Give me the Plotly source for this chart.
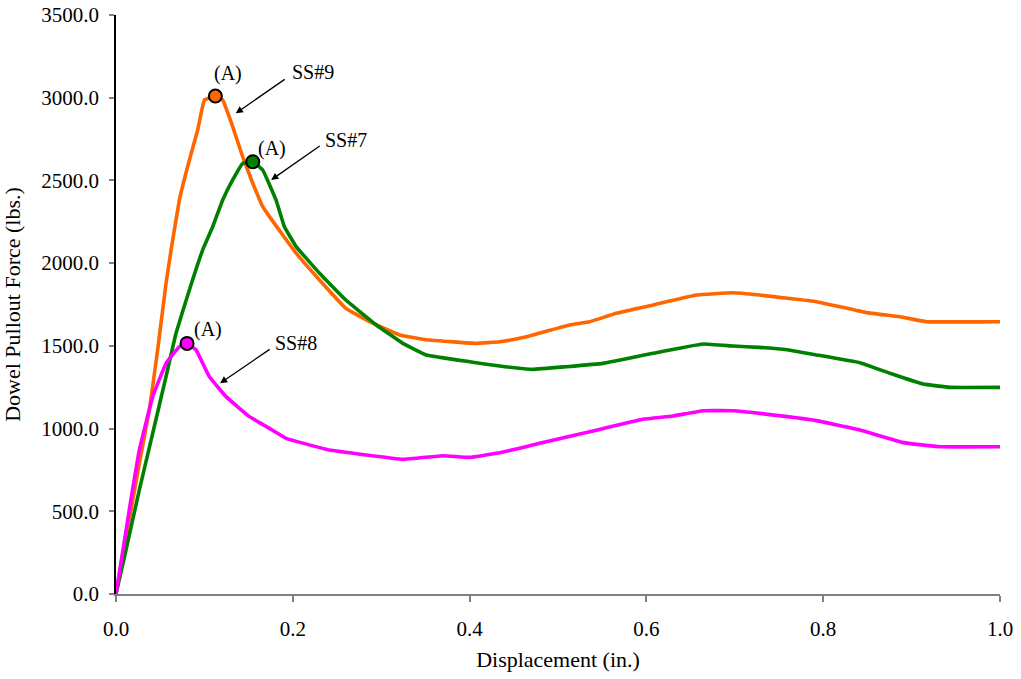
import plotly.graph_objects as go

# SS#9 (orange)
ss9_x = [0, 0.0264, 0.0377, 0.0471, 0.0566, 0.0623, 0.0717, 0.081, 0.0924, 0.100, 0.1124, 0.1207, 0.132,
         0.1433, 0.1547, 0.166, 0.1736, 0.2038, 0.2302, 0.260, 0.2868, 0.3207, 0.3547, 0.4075, 0.434, 0.4566,
         0.4717, 0.5132, 0.5358, 0.566, 0.6075, 0.6566, 0.698, 0.728, 0.7925, 0.849, 0.8868, 0.917, 1.0]
ss9_y = [0, 790, 1112, 1475, 1878, 2079, 2382, 2583, 2805, 2986, 3010, 2986, 2825,
         2643, 2483, 2341, 2281, 2060, 1898, 1727, 1646, 1566, 1535, 1515, 1525, 1546,
         1566, 1626, 1646, 1697, 1747, 1807, 1821, 1807, 1767, 1701, 1676, 1646, 1646]

# SS#7 (green)
ss7_x = [0, 0.0113, 0.0264, 0.0415, 0.0566, 0.0679, 0.083, 0.098, 0.1094, 0.1207, 0.132, 0.1433, 0.1547,
         0.166, 0.181, 0.1905, 0.2038, 0.2302, 0.260, 0.2944, 0.3245, 0.351, 0.40, 0.434, 0.4717, 0.5094,
         0.5509, 0.6075, 0.664, 0.698, 0.728, 0.7547, 0.7925, 0.8415, 0.8755, 0.913, 0.9434, 1.0]
ss7_y = [0, 266, 629, 971, 1314, 1576, 1838, 2079, 2220, 2382, 2503, 2603, 2613,
         2563, 2382, 2220, 2100, 1939, 1777, 1626, 1515, 1445, 1404, 1378, 1358, 1374,
         1394, 1455, 1511, 1499, 1491, 1479, 1445, 1398, 1334, 1269, 1249, 1249]

# SS#8 (magenta)
ss8_x = [0, 0.015, 0.0264, 0.0415, 0.0566, 0.0717, 0.0804, 0.0906, 0.1056, 0.1245, 0.151, 0.1736, 0.1925,
         0.2415, 0.283, 0.3245, 0.3698, 0.40, 0.434, 0.4566, 0.4792, 0.5358, 0.5962, 0.630, 0.664, 0.698,
         0.728, 0.7925, 0.8415, 0.8906, 0.932, 1.0]
ss8_y = [0, 508, 870, 1193, 1394, 1495, 1515, 1475, 1314, 1193, 1072, 1001, 941,
         870, 840, 814, 836, 826, 854, 881, 911, 981, 1056, 1076, 1108, 1108,
         1092, 1048, 991, 915, 890, 890]

# peak points (A)
peak_x = [0.1124, 0.1547, 0.0804]
peak_y = [3010, 2613, 1515]
peak_colors = ["#FF6600", "#008000", "#FF00FF"]

labels = ["SS#9", "SS#7", "SS#8"]
label_x = [0.2233, 0.2601, 0.2036]
label_y = [3157, 2744, 1520]
a_x = [0.1264, 0.1767, 0.1044]
a_y = [3149, 2694, 1596]
arrow_head_x = [0.1355, 0.1755, 0.1177]
arrow_head_y = [2906, 2503, 1274]
arrow_tail_x = [0.1925, 0.2321, 0.1755]
arrow_tail_y = [3117, 2714, 1485]

y_ticks = [0, 500, 1000, 1500, 2000, 2500, 3000, 3500]
x_ticks = [0, 0.2, 0.4, 0.6, 0.8, 1.0]

FONT = "Liberation Serif, Times New Roman, serif"

fig = go.Figure()
for xs, ys, col in [(ss9_x, ss9_y, "#FF6600"), (ss7_x, ss7_y, "#008000"), (ss8_x, ss8_y, "#FF00FF")]:
    fig.add_trace(go.Scatter(x=xs, y=ys, mode="lines",
                             line=dict(color=col, width=3.6, shape="spline", smoothing=0.25),
                             showlegend=False, hoverinfo="skip", cliponaxis=False))

fig.add_trace(go.Scatter(x=peak_x, y=peak_y, mode="markers",
                         marker=dict(size=13, color=peak_colors, line=dict(color="black", width=2)),
                         showlegend=False, hoverinfo="skip"))

annotations = []
for i in range(3):
    annotations.append(dict(x=arrow_head_x[i], y=arrow_head_y[i], xref="x", yref="y",
                            ax=arrow_tail_x[i], ay=arrow_tail_y[i], axref="x", ayref="y",
                            text="", showarrow=True, arrowhead=2, arrowsize=1.1,
                            arrowwidth=1.3, arrowcolor="black", standoff=0, startstandoff=0))
    annotations.append(dict(x=label_x[i], y=label_y[i], xref="x", yref="y", text=labels[i],
                            showarrow=False, font=dict(family=FONT, size=20, color="black")))
    annotations.append(dict(x=a_x[i], y=a_y[i], xref="x", yref="y", text="(A)",
                            showarrow=False, font=dict(family=FONT, size=20, color="black")))

fig.update_layout(
    width=1021, height=679,
    margin=dict(l=116, r=21, t=15, b=85),
    plot_bgcolor="white", paper_bgcolor="white",
    font=dict(family=FONT, size=21, color="black"),
    annotations=annotations,
    xaxis=dict(range=[0, 1], tickvals=x_ticks, tickformat=".1f", showgrid=False, zeroline=False,
               showline=True, linecolor="#808080", linewidth=1.5, ticks="outside", ticklen=6,
               tickcolor="#808080", tickwidth=1.5, ticklabelstandoff=9, automargin=False,
               title=dict(text="Displacement (in.)", font=dict(family=FONT, size=22), standoff=12),
               tickfont=dict(family=FONT, size=21)),
    yaxis=dict(range=[0, 3500], tickvals=y_ticks, tickformat=".1f", showgrid=False, zeroline=False,
               showline=True, linecolor="black", linewidth=1.5, ticks="outside", ticklen=5,
               tickcolor="#808080", tickwidth=1.5, ticklabelstandoff=6, automargin=False,
               title=dict(text="Dowel Pullout Force (lbs.)", font=dict(family=FONT, size=22), standoff=17),
               tickfont=dict(family=FONT, size=21)),
)

fig.write_html("out.html")
